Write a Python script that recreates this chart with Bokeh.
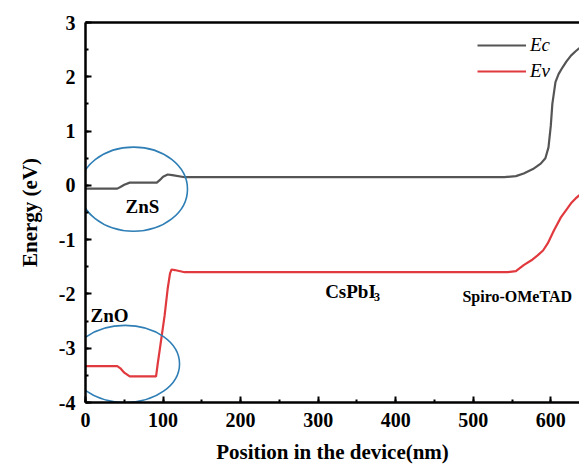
from bokeh.plotting import figure
from bokeh.models import Range1d, LinearAxis, SingleIntervalTicker, FixedTicker, Legend, LegendItem
from bokeh.core.properties import value
from bokeh.embed import file_html
from bokeh.resources import INLINE

# ---- data ----
position_ec = [0, 41, 45, 50, 57, 92, 96, 100, 106, 112, 128, 540, 555, 565, 577, 587,
               593, 597, 600, 602, 606, 610, 615, 620, 626, 632, 637]
energy_ec = [-0.06, -0.06, -0.03, 0.01, 0.05, 0.05, 0.1, 0.16, 0.2, 0.19, 0.15, 0.15, 0.17,
             0.22, 0.3, 0.40, 0.5, 0.70, 1.1, 1.5, 1.9, 2.05, 2.17, 2.28, 2.39, 2.47, 2.53]

position_ev = [0, 41, 45, 50, 57, 91, 93, 97, 102, 106, 109, 111, 115, 128, 544, 555, 565,
               575, 583, 590, 596, 604, 613, 620, 626, 632, 637]
energy_ev = [-3.33, -3.33, -3.37, -3.45, -3.52, -3.52, -3.3, -2.9, -2.4, -1.9, -1.62, -1.55,
             -1.56, -1.6, -1.6, -1.58, -1.47, -1.38, -1.29, -1.2, -1.07, -0.83, -0.59, -0.45,
             -0.33, -0.24, -0.18]

series_names = ["Ec", "Ev"]

y_tick_values = [-4, -3, -2, -1, 0, 1, 2, 3]
y_tick_labels = ["-4", "-3", "-2", "-1", "0", "1", "2", "3"]

x_title = "Position in the device(nm)"
y_title = "Energy (eV)"

# region markers (ellipses) and region labels
ellipse_x = [62, 51]
ellipse_y = [-0.07, -3.29]
ellipse_w = [139, 140.5]
ellipse_h = [1.55, 1.42]

big_label_text = ["ZnS"]
big_label_x = [73.5]
big_label_y = [-0.39]

left_label_text = ["ZnO", "CsPbI"]
left_label_x = [6.5, 309]
left_label_y = [-2.39, -1.95]

sub_label_text = ["3"]
sub_label_x = [372]
sub_label_y = [-2.06]

small_label_text = ["Spiro-OMeTAD"]
small_label_x = [486]
small_label_y = [-2.04]

SERIF = "Liberation Serif"

p = figure(width=579, height=470, x_range=Range1d(0, 637), y_range=Range1d(-4, 3),
           output_backend="svg", toolbar_location=None,
           min_border_left=85, min_border_right=0, min_border_top=22, min_border_bottom=68)
p.outline_line_color = None
p.xgrid.grid_line_color = None
p.ygrid.grid_line_color = None
p.background_fill_color = "white"

p.xaxis.ticker = SingleIntervalTicker(interval=100, num_minor_ticks=2)
p.yaxis.ticker = SingleIntervalTicker(interval=1, num_minor_ticks=2)
p.yaxis.major_label_overrides = dict(zip(y_tick_values, y_tick_labels))
for ax in (p.xaxis[0], p.yaxis[0]):
    ax.axis_line_width = 2.5
    ax.axis_line_color = "black"
    ax.major_tick_in = 6
    ax.major_tick_out = 0
    ax.minor_tick_in = 3
    ax.minor_tick_out = 0
    ax.major_tick_line_width = 2
    ax.minor_tick_line_width = 2
    ax.major_tick_line_color = "black"
    ax.minor_tick_line_color = "black"
    ax.major_label_text_font = SERIF
    ax.major_label_text_font_style = "bold"
    ax.major_label_text_font_size = "20px"
    ax.major_label_text_color = "black"
    ax.major_label_standoff = 10
    ax.axis_label_text_font = SERIF
    ax.axis_label_text_font_style = "bold"
    ax.axis_label_text_font_size = "21px"
    ax.axis_label_text_color = "black"
    ax.axis_label_standoff = 10
p.xaxis.axis_label = x_title
p.yaxis.axis_label = y_title
p.yaxis.axis_label_standoff = 14

top = LinearAxis(ticker=FixedTicker(ticks=[]), axis_line_width=2.5, axis_line_color="black",
                 major_tick_in=0, major_tick_out=0, minor_tick_in=0, minor_tick_out=0,
                 major_label_text_font_size="0px")
p.add_layout(top, "above")

r_ec = p.line(position_ec, energy_ec, line_color="#555555", line_width=2.2)
r_ev = p.line(position_ev, energy_ev, line_color="#e0393e", line_width=2.2)

p.ellipse(x=ellipse_x, y=ellipse_y, width=ellipse_w, height=ellipse_h,
          fill_color=None, line_color="#2f7fb6", line_width=1.6)

p.text(x=big_label_x, y=big_label_y, text=big_label_text, text_font=value(SERIF),
       text_font_style="bold", text_font_size="19px", text_align="center",
       text_baseline="middle", text_color="black")
p.text(x=left_label_x, y=left_label_y, text=left_label_text, text_font=value(SERIF),
       text_font_style="bold", text_font_size="19px", text_align="left",
       text_baseline="middle", text_color="black")
p.text(x=sub_label_x, y=sub_label_y, text=sub_label_text, text_font=value(SERIF),
       text_font_style="bold", text_font_size="12px", text_align="left",
       text_baseline="middle", text_color="black")
p.text(x=small_label_x, y=small_label_y, text=small_label_text, text_font=value(SERIF),
       text_font_style="bold", text_font_size="16px", text_align="left",
       text_baseline="middle", text_color="black")

legend = Legend(items=[LegendItem(label=series_names[0], renderers=[r_ec]),
                       LegendItem(label=series_names[1], renderers=[r_ev])],
                location=(392, 320), glyph_width=49, glyph_height=20, spacing=4,
                padding=0, margin=0, label_standoff=4, border_line_color=None,
                background_fill_alpha=0, label_text_font=SERIF,
                label_text_font_style="italic", label_text_font_size="19px",
                label_text_color="black")
p.add_layout(legend)

open("out.html", "w").write(file_html(p, INLINE))
